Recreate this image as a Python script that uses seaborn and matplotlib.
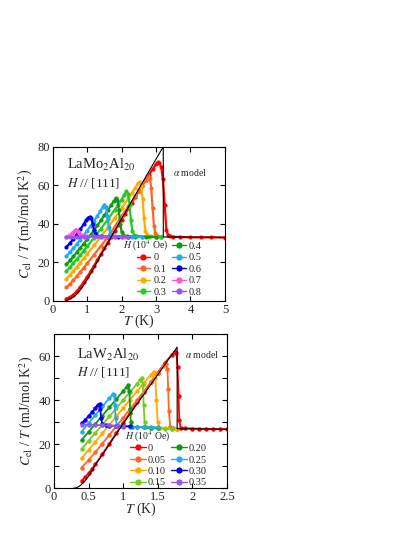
import numpy as np
import pandas as pd
import matplotlib
matplotlib.use("Agg")
import matplotlib.pyplot as plt
from matplotlib.lines import Line2D
from matplotlib.ticker import MultipleLocator, FuncFormatter
import seaborn as sns

# ---------------- data: LaMo2Al20 (top) ----------------
mo_fields = ["0", "0.1", "0.2", "0.3", "0.4", "0.5", "0.6", "0.7", "0.8"]
mo_colors = ["#ff0000", "#ff6622", "#ffaa00", "#22cc22", "#119911",
             "#22aaee", "#0000ee", "#ff55dd", "#9955ee"]

T_mo_0 = [0.4, 0.5, 0.6, 0.7, 0.8, 0.9, 1.0, 1.1, 1.2, 1.3, 1.4, 1.5, 1.6, 1.7, 1.8, 1.9, 2.0, 2.1, 2.2,
          2.3, 2.4, 2.5, 2.6, 2.7, 2.8, 2.9, 3.0, 3.05, 3.1, 3.15, 3.2, 3.25, 3.3, 3.35, 3.4, 3.5, 3.7,
          4.0, 4.3, 4.6, 5.0]
C_mo_0 = [1.2, 2.0, 3.2, 5.0, 7.3, 9.8, 12.5, 15.3, 18.3, 21.3, 24.3, 27.3, 30.3, 33.3, 36.3, 39.3, 42.2,
          45.1, 48.0, 51.0, 54.0, 57.0, 59.8, 62.7, 65.5, 68.3, 71.0, 72.0, 71.5, 69.5, 63.0, 50.0, 37.0,
          34.0, 33.5, 33.3, 33.2, 33.0, 33.0, 33.0, 32.9]
T_mo_1 = [0.4, 0.5, 0.6, 0.7, 0.8, 0.9, 1.0, 1.2, 1.4, 1.6, 1.8, 2.0, 2.2, 2.4, 2.5, 2.6, 2.7, 2.77, 2.82,
          2.86, 2.9, 2.94, 2.98, 3.05, 3.15]
C_mo_1 = [7.0, 8.8, 10.8, 12.9, 15.0, 17.2, 19.5, 24.0, 28.5, 33.2, 38.5, 44.0, 49.0, 54.2, 57.0, 59.8,
          62.8, 64.8, 64.0, 58.5, 48.0, 39.0, 35.0, 33.8, 33.4]
T_mo_2 = [0.4, 0.5, 0.6, 0.7, 0.8, 0.9, 1.0, 1.2, 1.4, 1.6, 1.8, 2.0, 2.2, 2.3, 2.4, 2.48, 2.53, 2.57,
          2.61, 2.65, 2.69, 2.75, 2.85, 3.0, 3.15]
C_mo_2 = [11.5, 13.5, 15.6, 17.7, 19.9, 22.1, 24.3, 28.8, 33.4, 38.1, 43.0, 48.0, 53.3, 56.0, 58.8, 61.0,
          61.6, 59.5, 53.0, 43.0, 36.5, 34.0, 33.5, 33.3, 33.2]
T_mo_3 = [0.4, 0.5, 0.6, 0.7, 0.8, 0.9, 1.0, 1.2, 1.4, 1.6, 1.8, 1.9, 2.0, 2.08, 2.14, 2.19, 2.23, 2.27,
          2.31, 2.36, 2.45, 2.6, 2.8, 3.0, 3.15]
C_mo_3 = [15.5, 17.5, 19.6, 21.7, 23.9, 26.1, 28.3, 32.8, 37.5, 42.3, 47.3, 49.9, 52.6, 55.2, 56.8, 55.5,
          50.0, 42.0, 36.5, 34.2, 33.6, 33.4, 33.3, 33.2, 33.2]
T_mo_4 = [0.4, 0.5, 0.6, 0.7, 0.8, 0.9, 1.0, 1.1, 1.2, 1.3, 1.4, 1.5, 1.6, 1.7, 1.77, 1.83, 1.88, 1.92,
          1.96, 2.0, 2.05, 2.15, 2.4, 2.7, 3.0]
C_mo_4 = [19.0, 21.0, 23.1, 25.3, 27.5, 29.7, 32.0, 34.4, 36.8, 39.2, 41.8, 44.4, 47.0, 49.8, 51.8, 53.3,
          52.5, 47.0, 40.0, 36.0, 34.2, 33.6, 33.4, 33.3, 33.2]
T_mo_5 = [0.4, 0.5, 0.6, 0.7, 0.8, 0.9, 1.0, 1.1, 1.2, 1.3, 1.38, 1.45, 1.5, 1.55, 1.59, 1.63, 1.67, 1.72,
          1.8, 2.0, 2.3, 2.6]
C_mo_5 = [23.3, 25.3, 27.3, 29.5, 31.8, 34.1, 36.5, 39.0, 41.5, 44.2, 46.5, 48.8, 50.0, 48.8, 44.0, 38.5,
          35.3, 34.0, 33.6, 33.4, 33.3, 33.2]
T_mo_6 = [0.4, 0.5, 0.6, 0.7, 0.8, 0.9, 0.97, 1.03, 1.08, 1.12, 1.16, 1.2, 1.24, 1.3, 1.4, 1.6, 1.9, 2.2]
C_mo_6 = [28.0, 30.0, 32.2, 34.6, 37.1, 39.8, 41.8, 43.2, 43.7, 43.0, 40.0, 37.0, 35.0, 33.9, 33.5, 33.3,
          33.2, 33.2]
T_mo_7 = [0.4, 0.45, 0.5, 0.55, 0.6, 0.65, 0.69, 0.73, 0.77, 0.82, 0.9, 1.0, 1.2, 1.5, 1.8, 2.1]
C_mo_7 = [33.2, 33.6, 34.2, 35.0, 35.9, 36.6, 36.9, 36.4, 35.4, 34.4, 33.8, 33.5, 33.4, 33.3, 33.2, 33.2]
T_mo_8 = [0.4, 0.5, 0.6, 0.7, 0.8, 0.9, 1.0, 1.2, 1.4, 1.6, 1.8, 2.0, 2.2]
C_mo_8 = [33.0, 33.1, 33.2, 33.3, 33.3, 33.4, 33.4, 33.5, 33.4, 33.4, 33.3, 33.3, 33.2]

T_mo_model = [0.4, 0.5, 0.6, 0.7, 0.8, 0.9, 1.0, 1.1, 1.2, 1.3, 1.4, 1.6, 1.8, 2.0, 2.2, 2.4, 2.6, 2.8,
              3.0, 3.21, 3.21, 5.0]
C_mo_model = [0.4, 1.0, 2.0, 3.6, 5.7, 8.2, 11.0, 14.0, 17.2, 20.5, 23.9, 30.2, 36.4, 42.6, 48.8, 55.0,
              61.2, 67.4, 73.6, 80.0, 33.2, 33.0]

# ---------------- data: LaW2Al20 (bottom) ----------------
w_fields = ["0", "0.05", "0.10", "0.15", "0.20", "0.25", "0.30", "0.35"]
w_colors = ["#ff0000", "#ff6622", "#ffaa00", "#77cc22", "#119911", "#22aaee", "#0000ee", "#9955ee"]

T_w_0 = [0.4, 0.45, 0.5, 0.55, 0.6, 0.7, 0.8, 0.9, 1.0, 1.1, 1.2, 1.3, 1.4, 1.5, 1.6, 1.7, 1.75, 1.77,
         1.785, 1.8, 1.81, 1.83, 1.9, 2.0, 2.1, 2.2, 2.3, 2.4, 2.5]
C_w_0 = [3.5, 5.0, 6.8, 8.8, 11.0, 15.5, 20.2, 25.0, 29.7, 34.3, 39.0, 43.5, 48.0, 52.5, 56.8, 60.5, 62.0,
         61.5, 55.0, 42.0, 31.0, 27.5, 27.2, 27.1, 27.0, 27.0, 26.9, 26.9, 26.8]
T_w_05 = [0.4, 0.5, 0.6, 0.7, 0.8, 0.9, 1.0, 1.1, 1.2, 1.3, 1.4, 1.5, 1.58, 1.62, 1.64, 1.65, 1.66, 1.68,
          1.72, 1.78]
C_w_05 = [9.4, 12.8, 16.5, 20.3, 24.2, 28.1, 32.0, 36.0, 40.0, 44.0, 48.2, 52.3, 55.5, 56.6, 54.0, 45.0,
          35.0, 28.0, 27.3, 27.1]
T_w_10 = [0.4, 0.5, 0.6, 0.7, 0.8, 0.9, 1.0, 1.1, 1.2, 1.3, 1.4, 1.44, 1.465, 1.48, 1.5, 1.53, 1.6, 1.7, 1.78]
C_w_10 = [13.6, 17.4, 21.2, 25.0, 28.8, 32.6, 36.4, 40.2, 44.0, 47.8, 51.6, 52.9, 50.0, 40.0, 30.0, 27.5,
          27.2, 27.1, 27.0]
T_w_15 = [0.4, 0.5, 0.6, 0.7, 0.8, 0.9, 1.0, 1.1, 1.2, 1.25, 1.27, 1.285, 1.295, 1.31, 1.33, 1.4, 1.5, 1.6, 1.7]
C_w_15 = [17.8, 21.5, 25.2, 28.9, 32.6, 36.3, 40.0, 43.7, 47.4, 49.3, 49.9, 47.0, 38.0, 30.0, 27.6, 27.3,
          27.2, 27.1, 27.0]
T_w_20 = [0.4, 0.5, 0.6, 0.7, 0.8, 0.9, 1.0, 1.05, 1.075, 1.09, 1.1, 1.11, 1.13, 1.2, 1.3, 1.4, 1.5]
C_w_20 = [21.9, 25.6, 29.3, 33.0, 36.7, 40.4, 44.1, 46.0, 46.9, 44.0, 36.0, 30.0, 28.0, 27.8, 27.6, 27.5, 27.4]
T_w_25 = [0.4, 0.5, 0.6, 0.7, 0.8, 0.85, 0.87, 0.88, 0.89, 0.91, 0.95, 1.0, 1.1, 1.2, 1.3, 1.4, 1.5]
C_w_25 = [25.7, 29.5, 33.3, 37.1, 40.9, 42.7, 42.5, 38.0, 32.0, 28.5, 28.2, 28.0, 27.9, 27.8, 27.8, 27.7, 27.7]
T_w_30 = [0.4, 0.45, 0.5, 0.55, 0.6, 0.64, 0.66, 0.67, 0.68, 0.7, 0.75, 0.8, 0.9, 1.0, 1.1]
C_w_30 = [29.5, 31.0, 32.8, 34.6, 36.5, 38.0, 38.3, 36.0, 32.0, 29.0, 28.5, 28.4, 28.3, 28.2, 28.1]
T_w_35 = [0.4, 0.5, 0.6, 0.7, 0.8, 0.9, 1.0]
C_w_35 = [28.9, 28.8, 28.7, 28.6, 28.5, 28.4, 28.3]

T_w_model = [0.28, 0.32, 0.36, 0.4, 0.45, 0.5, 0.55, 0.6, 0.7, 0.8, 0.9, 1.0, 1.2, 1.4, 1.6, 1.78, 1.78, 2.5]
C_w_model = [0.0, 0.2, 0.8, 1.8, 3.4, 5.5, 8.0, 10.7, 15.2, 19.9, 24.6, 29.3, 38.2, 47.1, 56.0, 64.0, 27.0, 26.8]

mo_T = [T_mo_0, T_mo_1, T_mo_2, T_mo_3, T_mo_4, T_mo_5, T_mo_6, T_mo_7, T_mo_8]
mo_C = [C_mo_0, C_mo_1, C_mo_2, C_mo_3, C_mo_4, C_mo_5, C_mo_6, C_mo_7, C_mo_8]
w_T = [T_w_0, T_w_05, T_w_10, T_w_15, T_w_20, T_w_25, T_w_30, T_w_35]
w_C = [C_w_0, C_w_05, C_w_10, C_w_15, C_w_20, C_w_25, C_w_30, C_w_35]

# ---------------- style ----------------
sns.set_theme(style="ticks")
plt.rcParams["font.family"] = ["Liberation Serif", "DejaVu Serif"]
plt.rcParams["mathtext.fontset"] = "stix"
plt.rcParams["axes.linewidth"] = 0.8
plt.rcParams["axes.edgecolor"] = "black"

TICK_FS = 9
LAB_FS = 10

fig = plt.figure(figsize=(4.15, 5.37), dpi=100)
ax1 = fig.add_axes([0.127, 0.4395, 0.415, 0.2873])
ax2 = fig.add_axes([0.130, 0.0907, 0.417, 0.2874])


def build_df(fields, Ts, Cs):
    frames = []
    for f, t, c in zip(fields, Ts, Cs):
        frames.append(pd.DataFrame({"T": t, "C": c, "H": f}))
    return pd.concat(frames, ignore_index=True)


def draw(ax, fields, colors, Ts, Cs, Tm, Cm, ms, lw):
    df = build_df(fields, Ts, Cs)
    pal = dict(zip(fields, colors))
    sns.lineplot(data=df, x="T", y="C", hue="H", hue_order=fields, palette=pal,
                 estimator=None, sort=False, marker="o", markersize=ms,
                 markeredgewidth=0, linewidth=lw, legend=False, ax=ax)
    dm = pd.DataFrame({"T": Tm, "C": Cm})
    sns.lineplot(data=dm, x="T", y="C", color="black", estimator=None, sort=False,
                 linewidth=0.8, ax=ax)


def style_axes(ax):
    ax.tick_params(which="both", direction="in", top=True, right=True,
                   labelsize=TICK_FS, length=3.5, width=0.8, color="black", pad=2)
    ax.tick_params(which="minor", length=3.5)
    for s in ax.spines.values():
        s.set_color("black")
        s.set_linewidth(0.8)
    ax.set_xlabel(r"$T$ (K)", fontsize=LAB_FS, labelpad=-2)
    ax.set_ylabel(r"$C_{\rm el}$ / $T$ (mJ/mol K$^2$)", fontsize=LAB_FS, labelpad=2)
    ax.xaxis.set_major_formatter(FuncFormatter(lambda v, p: "%g" % v))


# top panel
draw(ax1, mo_fields, mo_colors, mo_T, mo_C, T_mo_model, C_mo_model, 3.0, 1.6)
ax1.set_xlim(0, 5)
ax1.set_ylim(0, 80)
ax1.xaxis.set_major_locator(MultipleLocator(1))
ax1.yaxis.set_major_locator(MultipleLocator(20))
style_axes(ax1)
ax1.text(0.081, 0.88, r"LaMo$_2$Al$_{20}$", transform=ax1.transAxes, fontsize=10.5, va="center", ha="left")
ax1.text(0.081, 0.765, r"$H$ // [111]", transform=ax1.transAxes, fontsize=9.5, va="center", ha="left")
ax1.text(0.80, 0.83, r"$\alpha$ model", transform=ax1.transAxes, fontsize=7, va="center", ha="center")
ax1.text(0.408, 0.355, r"$H$ (10$^4$ Oe)", transform=ax1.transAxes, fontsize=7, va="center", ha="left")

h1 = [Line2D([], [], linestyle="none", label="")]
for f, c in zip(mo_fields, mo_colors):
    h1.append(Line2D([0], [0], color=c, marker="o", markersize=4.5, markeredgewidth=0, lw=1.0, label=f))
ax1.legend(handles=h1, ncol=2, frameon=False, fontsize=7.5, handlelength=1.3, handletextpad=0.3,
           columnspacing=0.6, labelspacing=0.2, borderpad=0, borderaxespad=0,
           loc="upper left", bbox_to_anchor=(0.487, 0.384))

# bottom panel
draw(ax2, w_fields, w_colors, w_T, w_C, T_w_model, C_w_model, 3.2, 1.3)
ax2.set_xlim(0, 2.5)
ax2.set_ylim(0, 70)
ax2.xaxis.set_major_locator(MultipleLocator(0.5))
ax2.yaxis.set_major_locator(MultipleLocator(20))
ax2.yaxis.set_minor_locator(MultipleLocator(10))
style_axes(ax2)
ax2.text(0.131, 0.864, r"LaW$_2$Al$_{20}$", transform=ax2.transAxes, fontsize=10.5, va="center", ha="left")
ax2.text(0.131, 0.756, r"$H$ // [111]", transform=ax2.transAxes, fontsize=9.5, va="center", ha="left")
ax2.text(0.858, 0.864, r"$\alpha$ model", transform=ax2.transAxes, fontsize=7, va="center", ha="center")
ax2.text(0.41, 0.336, r"$H$ (10$^4$ Oe)", transform=ax2.transAxes, fontsize=7, va="center", ha="left")

h2 = []
for f, c in zip(w_fields, w_colors):
    h2.append(Line2D([0], [0], color=c, marker="o", markersize=4.5, markeredgewidth=0, lw=1.0, label=f))
ax2.legend(handles=h2, ncol=2, frameon=False, fontsize=7.5, handlelength=1.5, handletextpad=0.2,
           columnspacing=0.5, labelspacing=0.2, borderpad=0, borderaxespad=0,
           loc="upper left", bbox_to_anchor=(0.439, 0.288))

fig.savefig("out.png", dpi=100)
